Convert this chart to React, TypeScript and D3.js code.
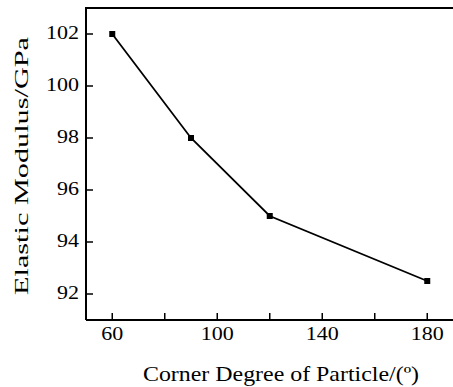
import { useEffect, useRef } from 'react';
import * as d3 from 'd3';

const angles = [60, 90, 120, 180];
const modulus = [102, 98, 95, 92.5];
const xTicks = [60, 100, 140, 180];
const xMinorTicks = [80, 120, 160];
const yTicks = [92, 94, 96, 98, 100, 102];

export default function App() {
  const svgRef = useRef<SVGSVGElement>(null);

  useEffect(() => {
    const svg = d3.select(svgRef.current);
    svg.selectAll('*').remove();

    const W = 453, H = 387;
    const font = 'Liberation Serif, Times New Roman, serif';
    svg.attr('width', W).attr('height', H).attr('viewBox', `0 0 ${W} ${H}`);

    // plot box (right edge is cropped off in the original)
    const left = 86, top = 8, bottom = 320;
    const xScale = d3.scaleLinear().domain([50, 190]).range([left, left + 140 * 2.625]);
    const yScale = d3.scaleLinear().domain([91, 103]).range([bottom, top]);

    svg.append('rect').attr('width', W).attr('height', H).attr('fill', '#fff');

    const axisColor = '#000';
    // frame: left, top, bottom
    svg.append('path')
      .attr('d', `M${left},${bottom}V${top}H${W + 5}M${left},${bottom}H${W + 5}`)
      .attr('fill', 'none').attr('stroke', axisColor).attr('stroke-width', 2);

    // x ticks (inward)
    [...xTicks, ...xMinorTicks].forEach(v => {
      svg.append('line')
        .attr('x1', xScale(v)).attr('x2', xScale(v))
        .attr('y1', bottom).attr('y2', bottom - 7)
        .attr('stroke', axisColor).attr('stroke-width', 1.5);
    });
    xTicks.forEach(v => {
      const s = String(v);
      svg.append('text')
        .attr('x', xScale(v)).attr('y', bottom + 20)
        .attr('text-anchor', 'middle')
        .style('font-family', font).attr('font-size', 19)
        .attr('textLength', s.length * 11).attr('lengthAdjust', 'spacingAndGlyphs')
        .text(s);
    });

    // y ticks (inward)
    yTicks.forEach(v => {
      const s = String(v);
      svg.append('line')
        .attr('x1', left).attr('x2', left + 7)
        .attr('y1', yScale(v)).attr('y2', yScale(v))
        .attr('stroke', axisColor).attr('stroke-width', 1.5);
      svg.append('text')
        .attr('x', 79).attr('y', yScale(v) + 4.5)
        .attr('text-anchor', 'end')
        .style('font-family', font).attr('font-size', 19)
        .attr('textLength', s.length * 11).attr('lengthAdjust', 'spacingAndGlyphs')
        .text(s);
    });

    // axis titles
    svg.append('text')
      .attr('x', 281).attr('y', 381)
      .attr('text-anchor', 'middle')
      .style('font-family', font).attr('font-size', 21)
      .attr('textLength', 276).attr('lengthAdjust', 'spacingAndGlyphs')
      .text('Corner Degree of Particle/(º)');

    svg.append('text')
      .attr('transform', 'translate(28,166) rotate(-90)')
      .attr('text-anchor', 'middle')
      .style('font-family', font).attr('font-size', 19)
      .attr('textLength', 258).attr('lengthAdjust', 'spacingAndGlyphs')
      .text('Elastic Modulus/GPa');

    // series
    const pts = angles.map((a, i) => [a, modulus[i]] as [number, number]);
    const line = d3.line<[number, number]>()
      .x(d => xScale(d[0]))
      .y(d => yScale(d[1]));
    svg.append('path')
      .datum(pts)
      .attr('d', line)
      .attr('fill', 'none')
      .attr('stroke', '#000')
      .attr('stroke-width', 1.8);

    pts.forEach(d => {
      svg.append('rect')
        .attr('x', xScale(d[0]) - 3).attr('y', yScale(d[1]) - 3)
        .attr('width', 6).attr('height', 6)
        .attr('fill', '#000');
    });
  }, []);

  return (
    <svg
      ref={svgRef}
      style={{ position: 'absolute', left: 0, top: 0, display: 'block' }}
    />
  );
}
